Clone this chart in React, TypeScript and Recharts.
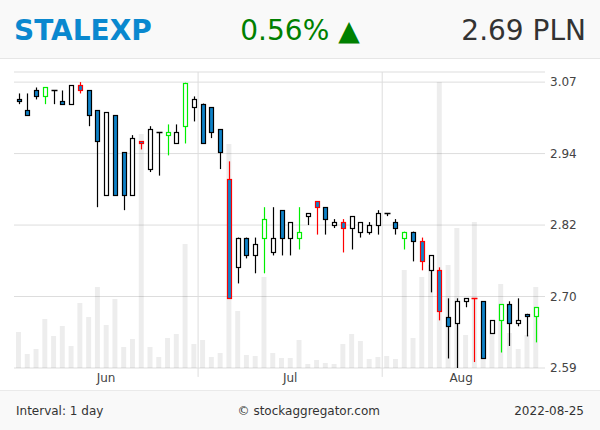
import React from "react";
import {
  Bar,
  CartesianGrid,
  ComposedChart,
  ReferenceLine,
  XAxis,
  YAxis,
} from "recharts";

const dates = [
  "2022-06-01", "2022-06-02", "2022-06-03", "2022-06-06", "2022-06-07", "2022-06-08", "2022-06-09", "2022-06-10",
  "2022-06-13", "2022-06-14", "2022-06-15", "2022-06-17", "2022-06-20", "2022-06-21", "2022-06-22", "2022-06-23",
  "2022-06-24", "2022-06-27", "2022-06-28", "2022-06-29", "2022-06-30",
  "2022-07-01", "2022-07-04", "2022-07-05", "2022-07-06", "2022-07-07", "2022-07-08", "2022-07-11", "2022-07-12",
  "2022-07-13", "2022-07-14", "2022-07-15", "2022-07-18", "2022-07-19", "2022-07-20", "2022-07-21", "2022-07-22",
  "2022-07-25", "2022-07-26", "2022-07-27", "2022-07-28", "2022-07-29",
  "2022-08-01", "2022-08-02", "2022-08-03", "2022-08-04", "2022-08-05", "2022-08-08", "2022-08-09", "2022-08-10",
  "2022-08-11", "2022-08-12", "2022-08-16", "2022-08-17", "2022-08-18", "2022-08-19", "2022-08-22", "2022-08-23",
  "2022-08-24", "2022-08-25",
];

const opens = [
  3.042, 3.023, 3.056, 3.046, 3.056, 3.038, 3.033, 3.065, 3.056, 3.023,
  2.88, 3.014, 2.952, 2.88, 2.971, 2.924, 2.986, 2.981, 2.967, 2.996,
  3.028, 3.033, 3.028, 2.991, 2.908, 2.759, 2.809, 2.779, 2.809, 2.784,
  2.855, 2.809, 2.809, 2.845, 2.87, 2.86, 2.83, 2.835, 2.825, 2.819,
  2.819, 2.83, 2.85, 2.835, 2.809, 2.819, 2.804, 2.754, 2.754, 2.675,
  2.665, 2.702, 2.707, 2.702, 2.648, 2.67, 2.697, 2.665, 2.681, 2.677,
];

const highs = [
  3.051, 3.051, 3.061, 3.061, 3.056, 3.056, 3.065, 3.07, 3.056, 3.023,
  3.019, 3.014, 2.952, 2.981, 2.971, 2.996, 2.986, 2.999, 2.999, 3.069,
  3.046, 3.034, 3.028, 2.991, 2.937, 2.809, 2.809, 2.809, 2.86, 2.86,
  2.855, 2.835, 2.86, 2.85, 2.87, 2.86, 2.84, 2.84, 2.845, 2.835,
  2.835, 2.855, 2.85, 2.84, 2.819, 2.819, 2.809, 2.779, 2.759, 2.707,
  2.707, 2.707, 2.707, 2.702, 2.67, 2.697, 2.702, 2.707, 2.681, 2.692,
];

const lows = [
  3.033, 3.014, 3.041, 3.033, 3.033, 3.033, 3.033, 3.051, 2.996, 2.86,
  2.88, 2.88, 2.855, 2.88, 2.957, 2.919, 2.913, 2.947, 2.967, 2.967,
  3.004, 2.967, 2.976, 2.924, 2.707, 2.732, 2.774, 2.749, 2.749, 2.779,
  2.779, 2.779, 2.789, 2.83, 2.814, 2.814, 2.825, 2.784, 2.789, 2.809,
  2.814, 2.814, 2.845, 2.814, 2.789, 2.769, 2.754, 2.717, 2.67, 2.606,
  2.59, 2.692, 2.6, 2.606, 2.648, 2.616, 2.627, 2.66, 2.643, 2.633,
];

const closes = [
  3.038, 3.014, 3.046, 3.061, 3.056, 3.033, 3.065, 3.056, 3.014, 2.971,
  3.019, 2.88, 2.88, 2.976, 2.967, 2.991, 2.986, 2.986, 2.986, 3.069,
  3.041, 2.967, 2.986, 2.952, 2.707, 2.809, 2.779, 2.799, 2.84, 2.809,
  2.809, 2.835, 2.819, 2.85, 2.86, 2.84, 2.835, 2.825, 2.845, 2.835,
  2.83, 2.85, 2.85, 2.825, 2.819, 2.804, 2.769, 2.779, 2.685, 2.66,
  2.702, 2.707, 2.707, 2.606, 2.67, 2.697, 2.665, 2.67, 2.677, 2.692,
];

// thousands of shares
const volumes = [
  36, 14, 19, 49, 32, 42, 22, 65, 51, 81,
  43, 69, 21, 29, 234, 21, 11, 30, 34, 124,
  24, 28, 11, 15, 224, 57, 13, 12, 91, 15,
  10, 10, 28, 4, 8, 5, 4, 24, 34, 27,
  9, 11, 12, 9, 98, 30, 91, 103, 286, 103,
  140, 33, 146, 48, 34, 84, 35, 19, 33, 81,
];

// 1 = buy signal, -1 = sell signal
const signals = [
  0, 0, 0, 1, 0, 0, 0, -1, 0, 0,
  0, 0, 0, 0, -1, 0, 0, 1, 0, 1,
  0, 0, 0, 0, -1, 0, 0, 0, 1, 0,
  0, 0, 1, 0, -1, 0, 0, -1, 0, 0,
  0, 0, 0, 0, 1, 0, -1, 0, -1, 0,
  0, 0, -1, 0, 0, 1, 0, 0, 0, 1,
];

const monthLabels = ["Jun", "Jul", "Aug"];
const priceTicks = [2.59, 2.71, 2.83, 2.95, 3.07];
const priceLabels = ["2.59", "2.70", "2.82", "2.94", "3.07"];

const BLUE = "#0f82c8";
const GRID = "#dddddd";
const PRICE_MIN = 2.59;
const PRICE_MAX = 3.087;

const data = dates.map((date, i) => ({
  i,
  date,
  open: opens[i],
  high: highs[i],
  low: lows[i],
  close: closes[i],
  volume: volumes[i],
  signal: signals[i],
}));

// first/last index of each month
const months: { first: number; last: number }[] = [];
dates.forEach((d, i) => {
  const key = d.slice(0, 7);
  const prev = i > 0 ? dates[i - 1].slice(0, 7) : null;
  if (key !== prev) months.push({ first: i, last: i });
  else months[months.length - 1].last = i;
});
const monthTicks = months.map((m) => (m.first + m.last) / 2);
const monthBounds = months.slice(1).map((m) => m.first - 0.5);

function Candle(props: any) {
  const { x, y, width, height, payload } = props;
  const { open, high, low, close, signal } = payload;
  const yTop = Math.min(y, y + height);
  const yBot = Math.max(y, y + height);
  const range = high - low;
  const toY = (v: number) =>
    range > 0 ? yTop + ((high - v) / range) * (yBot - yTop) : yTop;
  const cx = Math.round(x + width / 2) + 0.5;
  const stroke = signal > 0 ? "#00ee00" : signal < 0 ? "#ff0000" : "#000";
  const fill = close < open ? BLUE : "#fff";
  const bTop = Math.round(toY(Math.max(open, close))) + 0.5;
  const bBot = Math.round(toY(Math.min(open, close))) + 0.5;
  return (
    <g>
      <line x1={cx} x2={cx} y1={yTop} y2={yBot} stroke={stroke} strokeWidth={1.2} />
      {open === close ? (
        <line
          x1={cx - 3}
          x2={cx + 3}
          y1={bTop}
          y2={bTop}
          stroke={stroke}
          strokeWidth={1.5}
        />
      ) : (
        <rect
          x={cx - 2}
          y={bTop}
          width={4}
          height={Math.max(bBot - bTop, 1)}
          fill={fill}
          stroke={stroke}
          strokeWidth={1.2}
        />
      )}
    </g>
  );
}

export default function App() {
  const lastClose = closes[closes.length - 1];
  const prevClose = closes[closes.length - 2];
  const change = ((lastClose - prevClose) / prevClose) * 100;
  return (
    <div
      style={{
        position: "absolute",
        left: 0,
        top: 0,
        width: 600,
        height: 430,
        background: "#fff",
        fontFamily: "'DejaVu Sans', sans-serif",
      }}
    >
      <div
        style={{
          height: 59,
          boxSizing: "border-box",
          borderBottom: "1px solid #e6e6e6",
          background: "#f9f9f9",
          display: "grid",
          gridTemplateColumns: "1fr auto 1fr",
          alignItems: "center",
          padding: "3px 14px 0",
          fontSize: 28,
          lineHeight: "56px",
        }}
      >
        <span style={{ color: "#0a88cf", fontWeight: "bold" }}>STALEXP</span>
        <span style={{ color: "#008000" }}>
          {change.toFixed(2)}% ▲
        </span>
        <span style={{ color: "#333", textAlign: "right" }}>
          {lastClose.toFixed(2)} PLN
        </span>
      </div>
      <div style={{ position: "absolute", left: 0, top: 60 }}>
        <ComposedChart
          width={600}
          height={330}
          data={data}
          margin={{ top: 12, right: 0, bottom: 0, left: 14 }}
        >
          <XAxis
            xAxisId="x"
            dataKey="i"
            type="number"
            domain={[-0.5, 60.07]}
            allowDataOverflow
            ticks={monthTicks}
            tickFormatter={(_v: number, idx: number) => monthLabels[idx]}
            tickLine={false}
            axisLine={false}
            tickSize={0}
            tickMargin={5}
            height={22}
            tick={{ fontSize: 12, fill: "#444" }}
          />
          <XAxis
            xAxisId="v"
            dataKey="i"
            type="number"
            domain={[-0.5, 60.07]}
            allowDataOverflow
            height={0}
            hide
          />
          <YAxis
            yAxisId="price"
            orientation="right"
            domain={[PRICE_MIN, PRICE_MAX]}
            allowDataOverflow
            ticks={priceTicks}
            tickFormatter={(_v: number, idx: number) => priceLabels[idx]}
            tickLine={false}
            axisLine={false}
            tickSize={0}
            tickMargin={5}
            width={55}
            tick={{ fontSize: 12, fill: "#444", textAnchor: "start" }}
          />
          <YAxis yAxisId="vol" domain={[0, 296]} allowDataOverflow width={0} hide />
          <CartesianGrid
            xAxisId="x"
            yAxisId="price"
            vertical={false}
            stroke={GRID}
          />
          {monthBounds.map((b) => (
            <ReferenceLine
              key={b}
              xAxisId="x"
              yAxisId="price"
              ifOverflow="visible"
              segment={[
                { x: b, y: PRICE_MAX },
                { x: b, y: 2.575 },
              ]}
              stroke={GRID}
            />
          ))}
          <Bar
            xAxisId="v"
            yAxisId="vol"
            dataKey="volume"
            barSize={5}
            fill="rgba(0,0,0,0.07)"
            isAnimationActive={false}
          />
          <Bar
            xAxisId="x"
            yAxisId="price"
            dataKey={(d: any) => [d.low, d.high]}
            barSize={7}
            shape={<Candle />}
            isAnimationActive={false}
          />
        </ComposedChart>
      </div>
      <div
        style={{
          position: "absolute",
          left: 0,
          top: 390,
          width: 600,
          height: 40,
          boxSizing: "border-box",
          borderTop: "1px solid #eaeaea",
          background: "#f9f9f9",
          display: "flex",
          justifyContent: "space-between",
          alignItems: "center",
          padding: "0 16px",
          fontSize: 12,
          color: "#333",
        }}
      >
        <span>Interval: 1 day</span>
        <span>© stockaggregator.com</span>
        <span>{dates[dates.length - 1]}</span>
      </div>
    </div>
  );
}
